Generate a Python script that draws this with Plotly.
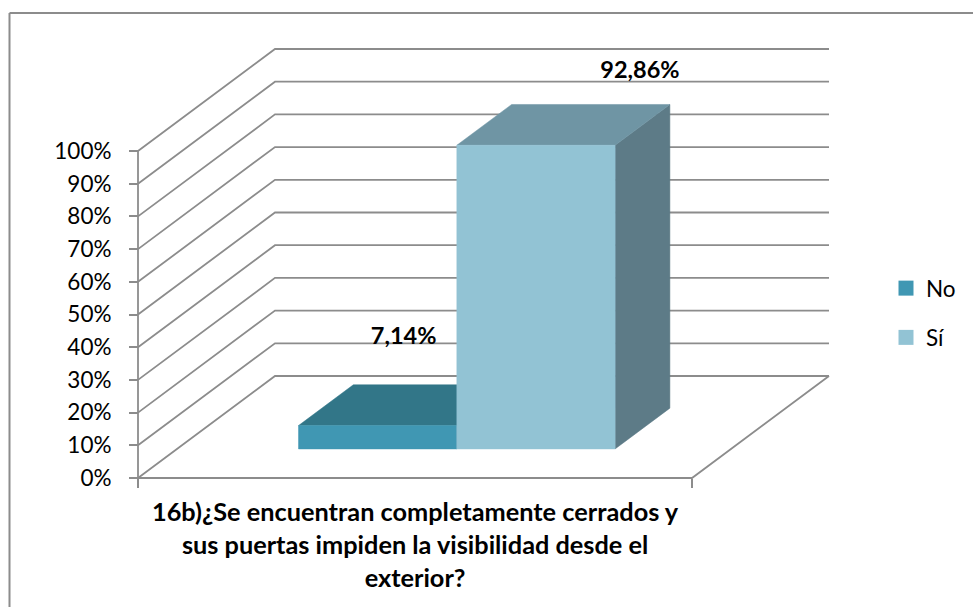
import plotly.graph_objects as go

# --- data ---
series_names = ["No", "Sí"]
series_values = [7.14, 92.86]
value_labels = ["7,14%", "92,86%"]
tick_values = [0, 10, 20, 30, 40, 50, 60, 70, 80, 90, 100]
tick_labels = ["0%", "10%", "20%", "30%", "40%", "50%", "60%", "70%", "80%", "90%", "100%"]
category_title = ("16b)¿Se encuentran completamente cerrados y<br>"
                  "sus puertas impiden la visibilidad desde el<br>exterior?")

front_colors = ["#4097B3", "#92C3D4"]
top_colors = ["#327688", "#6F95A4"]
side_colors = ["#2A6373", "#5D7B87"]
GRID = "#8C8C8C"
FONT = "Lato"

# --- page geometry (pixels) ---
W, H = 973, 607
X0, FLOOR_W = 138.0, 554.0     # front-left corner and floor width
Y0, PX_PER_PCT = 478.0, 3.27   # 0% line, px per percentage point
DX, DY = 137.0, 102.0          # oblique depth offset in px
PL, PR, PT, PB = 130.0, 973.0, 40.0, 492.0  # plot box (with padding)

x_range = [(PL - X0) / FLOOR_W, (PR - X0) / FLOOR_W]
y_range = [(Y0 - PB) / PX_PER_PCT, (Y0 - PT) / PX_PER_PCT]


def proj(x, v, d):
    """Oblique projection: x in floor widths, v in %, d in floor depth."""
    return x + d * DX / FLOOR_W, v + d * DY / PX_PER_PCT


def poly(points):
    xs, ys = zip(*[proj(*p) for p in points])
    return list(xs), list(ys)


fig = go.Figure()

# walls: gridlines on the side wall and the back wall
for v in tick_values:
    xs, ys = poly([(0, v, 0), (0, v, 1), (1, v, 1)])
    fig.add_trace(go.Scatter(x=xs, y=ys, mode="lines", showlegend=False, hoverinfo="skip",
                             line=dict(color=GRID, width=1.8)))
# floor and vertical axis
for pts in ([(0, 0, 0), (1, 0, 0), (1, 0, 1)], [(0, 0, 0), (0, 100, 0)]):
    xs, ys = poly(pts)
    fig.add_trace(go.Scatter(x=xs, y=ys, mode="lines", showlegend=False, hoverinfo="skip",
                             line=dict(color=GRID, width=1.8)))

# bars
GAP = 1.5
BAR_W = 1 / (len(series_values) + GAP)
START = GAP / 2 * BAR_W + 0.005
D0, D1 = 0.285, 0.685


def face(points, color):
    xs, ys = poly(points)
    fig.add_trace(go.Scatter(x=xs, y=ys, mode="lines", fill="toself", fillcolor=color,
                             line=dict(color=color, width=0.5), showlegend=False, hoverinfo="skip"))


for i, v in enumerate(series_values):
    a = START + i * BAR_W
    b = a + BAR_W
    face([(b, 0, D0), (b, 0, D1), (b, v, D1), (b, v, D0), (b, 0, D0)], side_colors[i])
    face([(a, v, D0), (a, v, D1), (b, v, D1), (b, v, D0), (a, v, D0)], top_colors[i])
    face([(a, 0, D0), (b, 0, D0), (b, v, D0), (a, v, D0), (a, 0, D0)], front_colors[i])

# data labels, offset in px from the centre of each bar's upper front edge
label_shift_px = [(26, 87), (104, 73)]
for i, v in enumerate(series_values):
    cx, cv = proj(START + (i + 0.5) * BAR_W, v, D0)
    sx, sy = label_shift_px[i]
    fig.add_trace(go.Scatter(x=[cx + sx / FLOOR_W], y=[cv + sy / PX_PER_PCT], mode="text",
                             text=[value_labels[i]],
                             textfont=dict(family=FONT, size=23.5, color="#000000", weight="bold"),
                             textposition="middle center", showlegend=False, hoverinfo="skip"))

# legend keys
for i, name in enumerate(series_names):
    fig.add_trace(go.Scatter(x=[None], y=[None], mode="markers", name=name, legendgroup=name,
                             marker=dict(symbol="square", size=15, color=front_colors[i])))

plot_w, plot_h = PR - PL, PB - PT
fig.update_layout(
    width=W, height=H, autosize=False,
    margin=dict(l=PL, r=W - PR, t=PT, b=H - PB, pad=0),
    paper_bgcolor="white", plot_bgcolor="rgba(0,0,0,0)",
    font=dict(family=FONT, color="#000000"),
    xaxis=dict(range=x_range, showgrid=False, zeroline=False, showline=False,
               tickmode="array", tickvals=[0, 1], showticklabels=False,
               ticks="outside", ticklen=9, tickcolor=GRID, tickwidth=1.8,
               anchor="free", position=(PB - Y0) / plot_h),
    yaxis=dict(range=y_range, showgrid=False, zeroline=False, showline=False,
               tickmode="array", tickvals=tick_values, ticktext=tick_labels,
               ticks="outside", ticklen=9, tickcolor=GRID, tickwidth=1.8,
               ticklabelstandoff=13,
               tickfont=dict(family=FONT, size=22.5, color="#000000"),
               anchor="free", position=(X0 - PL) / plot_w),
    legend=dict(x=(886 - PL) / plot_w, xanchor="left", y=(PB - 267) / plot_h, yanchor="top",
                tracegroupgap=17, font=dict(family=FONT, size=22.5, color="#000000"),
                bgcolor="rgba(0,0,0,0)", itemclick=False, itemdoubleclick=False),
    annotations=[dict(x=0.5, xref="x", y=(PB - 494) / plot_h, yref="paper", yanchor="top",
                      xanchor="center", align="center", showarrow=False, text=category_title,
                      font=dict(family=FONT, size=25.3, color="#000000", weight="bold"))],
    shapes=[
        dict(type="line", xref="paper", yref="paper",
             x0=(9.5 - PL) / plot_w, x1=1.0, y0=(PB - 13) / plot_h, y1=(PB - 13) / plot_h,
             line=dict(color=GRID, width=2)),
        dict(type="line", xref="paper", yref="paper",
             x0=(9.5 - PL) / plot_w, x1=(9.5 - PL) / plot_w, y0=(PB - H) / plot_h, y1=(PB - 13) / plot_h,
             line=dict(color=GRID, width=2)),
    ],
)

fig.write_html("out.html", config={"displayModeBar": False},
               post_script="document.body.style.margin='0';")
